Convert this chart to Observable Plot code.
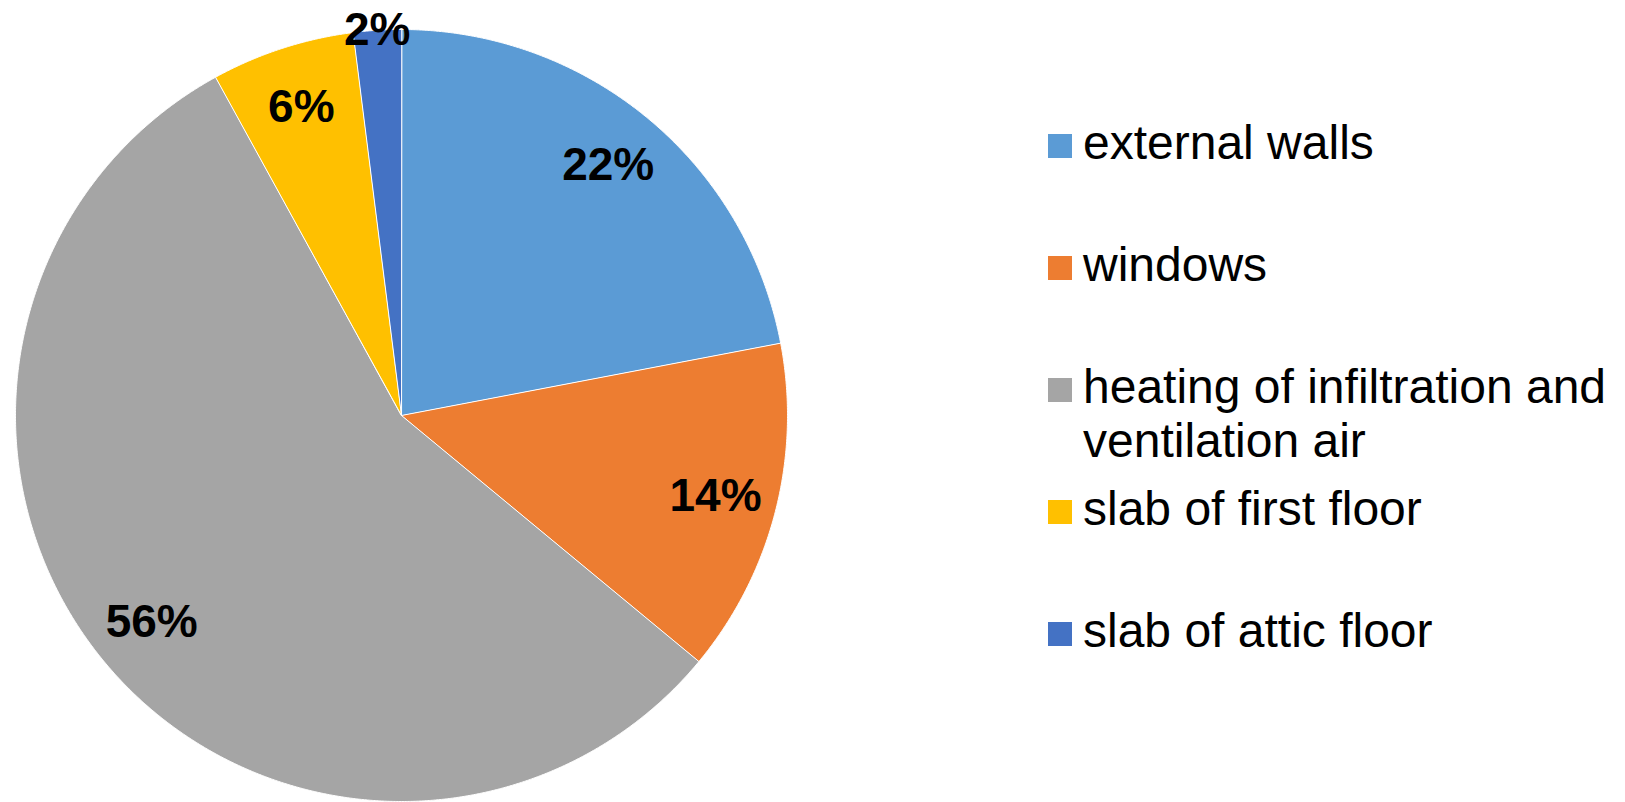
<!DOCTYPE html>
<html>
<head>
<meta charset="utf-8">
<script src="https://cdn.jsdelivr.net/npm/d3@7"></script>
<script src="https://cdn.jsdelivr.net/npm/@observablehq/plot@0.6"></script>
<style>
  html, body { margin: 0; padding: 0; background: #fff; }
  #wrap { position: relative; width: 1625px; height: 802px; overflow: hidden; font-family: "Liberation Sans", Arial, sans-serif; }
  #chart { position: absolute; left: 0; top: 0; }
  #legend { position: absolute; left: 1048px; top: 116.4px; }
  .item { display: flex; align-items: flex-start; height: 121.9px; }
  .sw { width: 24px; height: 24px; margin-top: 17.6px; flex: none; }
  .lab { margin-left: 11px; font-size: 48px; line-height: 54px; color: #000; width: 560px; }
</style>
</head>
<body>
<div id="wrap">
  <div id="chart"></div>
  <div id="legend"></div>
</div>
<script>
const categories = ["external walls", "windows", "heating of infiltration and ventilation air", "slab of first floor", "slab of attic floor"];
const shares = [22, 14, 56, 6, 2];
const colors = ["#5B9BD5", "#ED7D31", "#A5A5A5", "#FFC000", "#4472C4"];

const cx = 401, cy = 415, R = 386;

const arcs = d3.pie().sort(null).value(d => d)(shares);

const slicePts = [];
arcs.forEach((a, i) => {
  const n = Math.max(2, Math.ceil((a.endAngle - a.startAngle) / 0.004));
  slicePts.push({cat: categories[i], x: 0, y: 0});
  for (let k = 0; k <= n; k++) {
    const t = a.startAngle + (a.endAngle - a.startAngle) * k / n;
    slicePts.push({cat: categories[i], x: Math.sin(t), y: Math.cos(t)});
  }
});

const labels = arcs.map((a, i) => {
  const m = (a.startAngle + a.endAngle) / 2;
  const r = shares[i] < 4 ? 1.0 : 0.84;
  return {x: r * Math.sin(m), y: r * Math.cos(m), text: shares[i] + "%"};
});

const chart = Plot.plot({
  width: 1625,
  height: 802,
  margin: 0,
  style: {fontFamily: '"Liberation Sans", Arial, sans-serif', overflow: "visible", background: "transparent"},
  x: {domain: [-1, 1], range: [cx - R, cx + R], axis: null},
  y: {domain: [-1, 1], range: [cy + R, cy - R], axis: null},
  color: {domain: categories, range: colors},
  marks: [
    Plot.line(slicePts, {x: "x", y: "y", z: "cat", fill: "cat", stroke: "#fff", strokeWidth: 1, curve: "linear-closed"}),
    Plot.text(labels, {x: "x", y: "y", text: "text", fontSize: 46, fontWeight: "bold", fill: "#000"})
  ]
});
document.getElementById("chart").appendChild(chart);

const legend = document.getElementById("legend");
categories.forEach((c, i) => {
  const item = document.createElement("div");
  item.className = "item";
  const sw = document.createElement("div");
  sw.className = "sw";
  sw.style.background = colors[i];
  const lab = document.createElement("div");
  lab.className = "lab";
  lab.textContent = c;
  item.appendChild(sw);
  item.appendChild(lab);
  legend.appendChild(item);
});
</script>
</body>
</html>
